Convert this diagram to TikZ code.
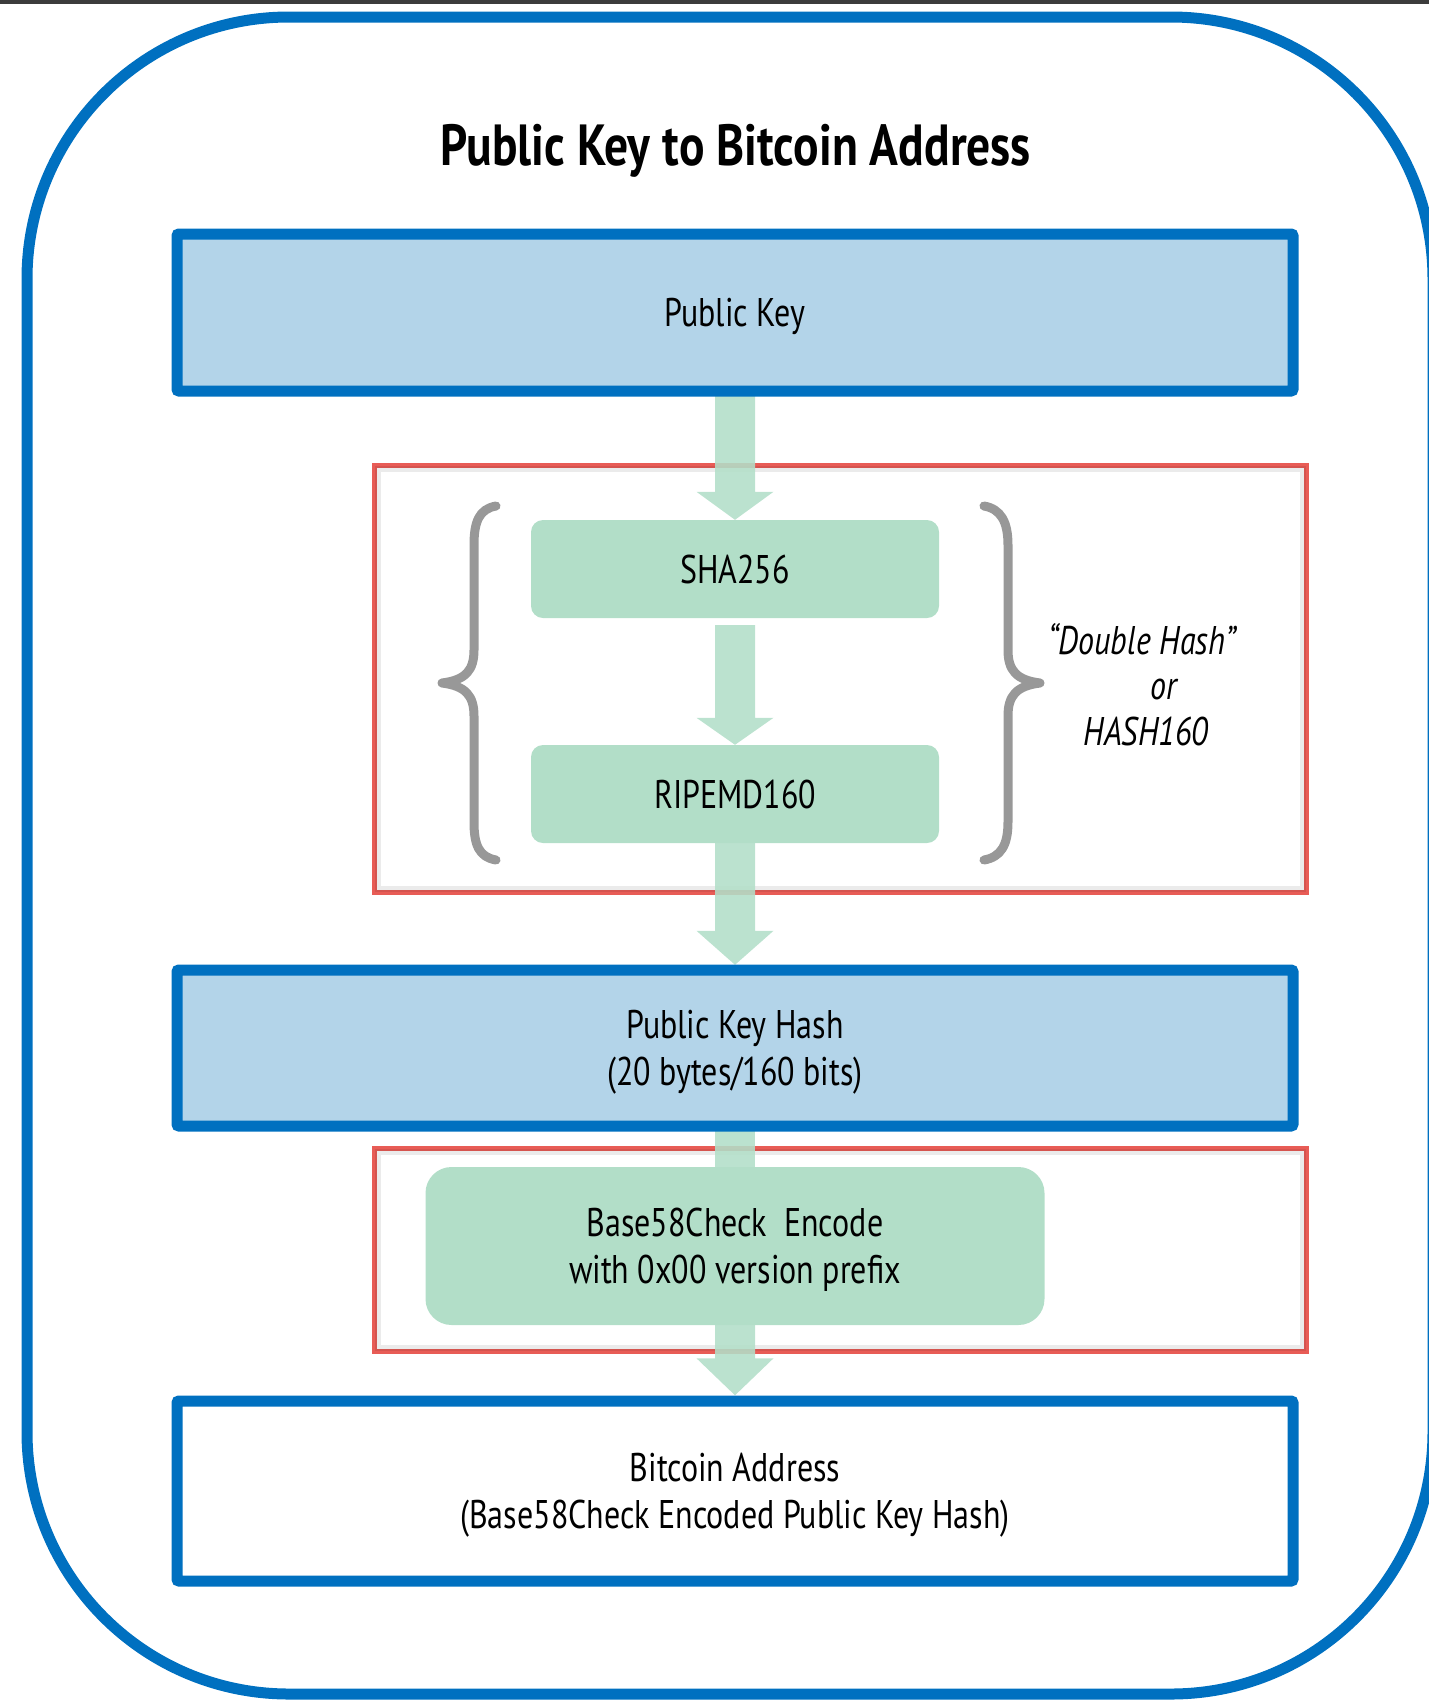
\documentclass[tikz,border=0pt]{standalone}
\usepackage{fontspec}
\setmainfont{PT Sans}[FakeStretch=0.8]
\newfontfamily\ttlfamily{PT Sans}[FakeStretch=0.82]
\usetikzlibrary{calc}
\definecolor{bblue}{RGB}{0,112,192}
\definecolor{lblue}{RGB}{179,212,233}
\definecolor{lgreen}{RGB}{178,222,200}
\definecolor{rred}{RGB}{232,92,86}
\definecolor{bgray}{RGB}{152,152,152}
\definecolor{topbar}{RGB}{60,60,60}
\newcommand\nodefont{\fontsize{40}{47}\selectfont}
\newcommand\ttlfont{\ttlfamily\bfseries\fontsize{58}{66}\selectfont}
\newcommand\flowarr[3]{\fill[flow] ($#1+(-20,0)$) -- ($#2+(-20,-#3)$) -- ($#2+(-38.5,-#3)$) -- #2 -- ($#2+(38.5,-#3)$) -- ($#2+(20,-#3)$) -- ($#1+(20,0)$) -- cycle;}
\begin{document}
\begin{tikzpicture}[x=1pt,y=-1pt,
  bluebox/.style={draw=bblue, line width=11pt, rounded corners=2pt, inner sep=0pt, font=\nodefont, align=center, text depth=0pt},
  greenbox/.style={fill=lgreen, rounded corners=12pt, inner sep=0pt, font=\nodefont, align=center, text depth=0pt},
  redbox/.style={draw=rred, line width=5pt, inner sep=0pt},
  shadowline/.style={draw=black, opacity=0.08, line width=6pt},
  flow/.style={fill=lgreen, opacity=0.88},
  bracestyle/.style={draw=bgray, line width=9pt, line cap=round, line join=round},
  italtext/.style={font=\nodefont\itshape, anchor=base, inner sep=0pt},
  oneline/.style={text height=28pt},
  twoline/.style={text height=75pt}]
\path[use as bounding box] (0,0) rectangle (1429,1701);
\fill[topbar] (0,0) rectangle (1429,3.5);
\draw[bblue, line width=11pt, rounded corners=262pt] (27,17) rectangle (1433,1694);

\node[font=\ttlfont, anchor=base, inner sep=0pt] (title) at (736,165) {Public Key to Bitcoin Address};

% red frames
\node[redbox, minimum width=932pt, minimum height=427pt] (dhframe) at (840,678.5) {};
\node[redbox, minimum width=932pt, minimum height=203pt] (encframe) at (840,1249.5) {};
\draw[shadowline] ($(dhframe.north west)+(6,6)$) rectangle ($(dhframe.south east)+(-6,-6)$);
\draw[shadowline] ($(encframe.north west)+(6,6)$) rectangle ($(encframe.south east)+(-6,-6)$);

% boxes (positions)
\coordinate (pkc) at (735,312.5);
\coordinate (shac) at (735,569);
\coordinate (ripc) at (735,794);
\coordinate (pkhc) at (735,1048);
\coordinate (b58c) at (735,1246);
\coordinate (bac) at (735,1491);

\path (pkc) node[minimum width=1116pt, minimum height=157pt] (pk) {};
\path (shac) node[minimum width=408pt, minimum height=98pt] (sha) {};
\path (ripc) node[minimum width=408pt, minimum height=98pt] (rip) {};
\path (pkhc) node[minimum width=1116pt, minimum height=156pt] (pkh) {};
\path (b58c) node[minimum width=619pt, minimum height=158pt] (b58) {};
\path (bac) node[minimum width=1116pt, minimum height=180pt] (ba) {};

% flow arrows
\coordinate (s2) at ($(sha.south)+(0,7)$);
\coordinate (t3) at ($(pkh.north)+(0,-5)$);
\coordinate (t5) at ($(ba.north)+(0,-5.5)$);
\flowarr{(pk.south)}{(sha.north)}{28}
\flowarr{(s2)}{(rip.north)}{27}
\flowarr{(rip.south)}{(t3)}{34}
\fill[flow] ($(pkh.south)+(-20,0)$) rectangle ($(b58.north)+(20,0)$);
\flowarr{(b58.south)}{(t5)}{37}

% braces
\draw[bracestyle] (496,506) .. controls (479,509) and (474,522) .. (474,545) -- (474,650) .. controls (474,670) and (466,680) .. (442,683) .. controls (466,686) and (474,696) .. (474,716) -- (474,822) .. controls (474,845) and (479,857) .. (496,860);
\draw[bracestyle] (984,506) .. controls (1001,509) and (1008,522) .. (1008,545) -- (1008,650) .. controls (1008,670) and (1016,680) .. (1040,683) .. controls (1016,686) and (1008,696) .. (1008,716) -- (1008,822) .. controls (1008,845) and (1001,857) .. (984,860);

% nodes with text
\node[bluebox, fill=lblue, oneline, minimum width=1116pt, minimum height=157pt] (pkn) at (pkc) {Public Key};
\node[greenbox, oneline, minimum width=408pt, minimum height=98pt] (shan) at (shac) {SHA256};
\node[greenbox, oneline, minimum width=408pt, minimum height=98pt] (ripn) at (ripc) {RIPEMD160};
\node[bluebox, fill=lblue, twoline, minimum width=1116pt, minimum height=156pt] (pkhn) at (pkhc) {Public Key Hash\\(20 bytes/160 bits)};
\node[greenbox, twoline, rounded corners=26pt, minimum width=619pt, minimum height=158pt] (b58n) at (b58c) {Base58Check\ \ Encode\\with 0x00 version prefix};
\node[bluebox, fill=white, twoline, minimum width=1116pt, minimum height=180pt] (ban) at (bac) {Bitcoin Address\\(Base58Check Encoded Public Key Hash)};

\node[italtext] (dh1) at (1142,654) {“Double Hash”};
\node[italtext] (dh2) at (1164,699) {or};
\node[italtext] (dh3) at (1146,745) {HASH160};
\end{tikzpicture}
\end{document}
